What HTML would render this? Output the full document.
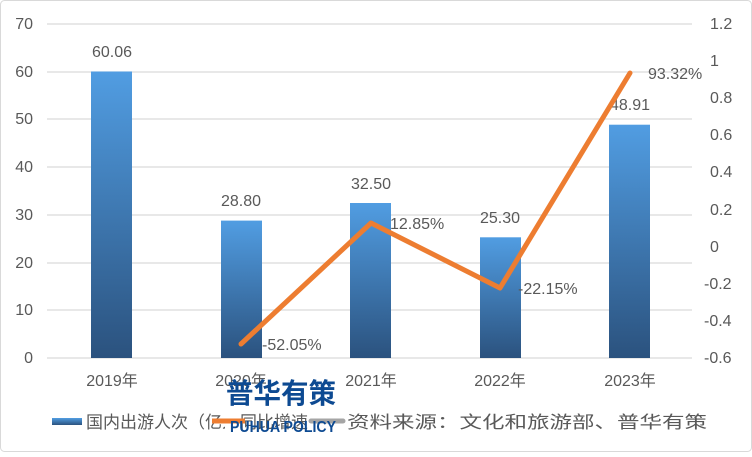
<!DOCTYPE html>
<html><head><meta charset="utf-8"><style>
body{margin:0;background:#fff}
svg text{font-family:"Liberation Sans","Noto Sans CJK SC",sans-serif;fill:#595959}
</style></head><body>
<svg width="752" height="452" viewBox="0 0 752 452" xmlns="http://www.w3.org/2000/svg">
<defs><linearGradient id="g" x1="0" y1="0" x2="0" y2="1"><stop offset="0" stop-color="#519de2"/><stop offset="1" stop-color="#2b527e"/></linearGradient>
<clipPath id="c1"><rect x="80" y="405" width="145" height="30"/></clipPath></defs>
<rect x="0.5" y="0.5" width="751" height="451" rx="4" fill="#fff" stroke="#d9d9d9"/>
<g stroke="#d9d9d9" stroke-width="1.3">
<line x1="47" y1="24" x2="692" y2="24"/><line x1="47" y1="72" x2="692" y2="72"/><line x1="47" y1="119" x2="692" y2="119"/><line x1="47" y1="167" x2="692" y2="167"/><line x1="47" y1="215" x2="692" y2="215"/><line x1="47" y1="263" x2="692" y2="263"/><line x1="47" y1="310" x2="692" y2="310"/><line x1="47" y1="358" x2="692" y2="358"/>
</g>
<g font-size="16" text-anchor="end">
<text x="33" y="29">70</text><text x="33" y="77">60</text><text x="33" y="124">50</text><text x="33" y="172">40</text><text x="33" y="220">30</text><text x="33" y="268">20</text><text x="33" y="315">10</text><text x="33" y="363">0</text>
</g>
<g font-size="16" text-anchor="start">
<text x="710" y="29">1.2</text><text x="710" y="66">1</text><text x="710" y="103">0.8</text><text x="710" y="140">0.6</text><text x="710" y="177">0.4</text><text x="710" y="215">0.2</text><text x="710" y="252">0</text><text x="704" y="289">-0.2</text><text x="704" y="326">-0.4</text><text x="704" y="363">-0.6</text>
</g>
<g fill="url(#g)">
<rect x="91" y="71.5" width="41" height="286.5"/>
<rect x="221" y="220.6" width="41" height="137.4"/>
<rect x="350" y="203" width="41" height="155"/>
<rect x="480" y="237.3" width="41" height="120.7"/>
<rect x="609" y="124.7" width="41" height="233.3"/>
</g>
<g font-size="16" text-anchor="middle">
<text x="112" y="57">60.06</text><text x="241" y="206">28.80</text><text x="371" y="189">32.50</text><text x="500" y="223">25.30</text><text x="630" y="110">48.91</text>
</g>
<polyline points="241,344 371,223 500,288 630,73" fill="none" stroke="#ed7d31" stroke-width="5" stroke-linejoin="round" stroke-linecap="round"/>
<g font-size="16">
<text x="262" y="350">-52.05%</text><text x="390" y="229">12.85%</text><text x="518" y="294">-22.15%</text><text x="648" y="79">93.32%</text>
</g>
<g font-size="16" text-anchor="middle">
<text x="112" y="386">2019年</text><text x="241" y="386">2020年</text><text x="371" y="386">2021年</text><text x="500" y="386">2022年</text><text x="630" y="386">2023年</text>
</g>
<rect x="52" y="418" width="30" height="7" fill="url(#g)"/>
<text x="86" y="428" font-size="17" clip-path="url(#c1)">国内出游人次（亿人次）</text>
<text x="240" y="428" font-size="17">同比增速</text>
<line x1="212" y1="421" x2="245" y2="421" stroke="#ed7d31" stroke-width="5"/>
<line x1="311" y1="421" x2="343" y2="421" stroke="#a5a5a5" stroke-width="5" stroke-linecap="round"/>
<text x="347" y="428" font-size="17" textLength="360" lengthAdjust="spacingAndGlyphs">资料来源：文化和旅游部、普华有策</text>
<text x="226" y="403" font-size="28" font-weight="bold" style="fill:#0d4a92" textLength="110" lengthAdjust="spacingAndGlyphs">普华有策</text>
<text x="230" y="432" font-size="16" font-weight="bold" style="fill:#0d4a92" textLength="106" lengthAdjust="spacingAndGlyphs">PUHUA POLICY</text>
</svg>
</body></html>
